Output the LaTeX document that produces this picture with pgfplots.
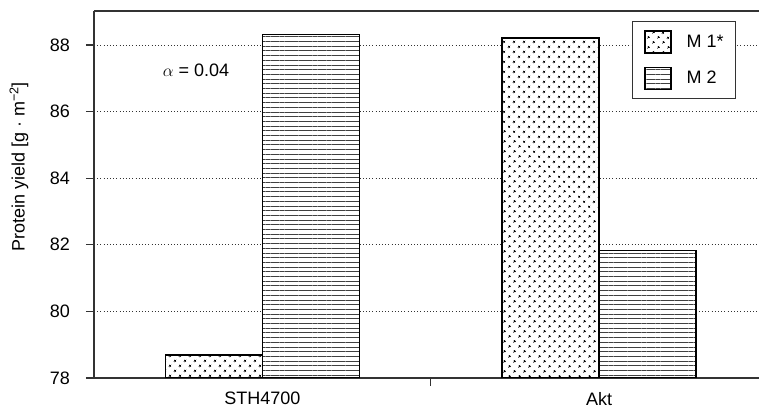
\documentclass[border=0pt]{standalone}
\usepackage{pgfplots}
\pgfplotsset{compat=1.18}
\usepackage{fontspec}
\setmainfont{Liberation Sans}
\usetikzlibrary{patterns.meta}

\definecolor{axisgray}{HTML}{333333}

\begin{document}
\begin{tikzpicture}
\begin{axis}[
  scale only axis,
  width=665bp, height=367bp,
  at={(0,0)}, anchor=south west,
  font=\fontsize{18bp}{21bp}\selectfont,
  /pgf/number format/assume math mode=true,
  ybar,
  bar width=0.288,
  xmin=-0.5, xmax=1.475,
  ymin=78, ymax=89.02,
  axis x line*=box,
  axis y line*=left,
  axis line style={draw=axisgray, line width=1.2bp},
  tick style={draw=axisgray, line width=1.2bp},
  tick align=outside,
  major tick length=8bp,
  xtick={0.5}, xticklabels={},
  xtick pos=bottom,
  extra x ticks={0,1},
  extra x tick labels={STH4700,Akt},
  extra x tick style={major tick length=0pt},
  xticklabel style={inner sep=0pt, anchor=north, yshift=-14bp},
  ytick={78,80,82,84,86,88},
  yticklabel style={inner sep=0pt, anchor=east, xshift=-16bp},
  ymajorgrids,
  grid style={draw=black!80, line width=0.8bp, dash pattern=on 1bp off 2.2bp},
  ylabel={Protein yield [g · m\textsuperscript{\char"2212 2}]},
  every axis y label/.style={at={(axis description cs:-0.1128,0.575)}, rotate=90, anchor=center},
  legend image code/.code={\draw[#1] (0bp,-11bp) rectangle (26bp,11bp);},
  legend style={at={(0.809,0.973)}, anchor=north west, draw=axisgray, line width=1bp,
    inner xsep=12bp, inner ysep=9bp, row sep=13bp,
    nodes={inner sep=0pt},
    /tikz/every odd column/.append style={column sep=15bp},
    font=\fontsize{18bp}{21bp}\selectfont},
  legend cell align=left,
]
% M 1* bars: white fill with staggered dots
\addplot[draw=black, line width=1.2bp, fill=white, bar shift=-0.144,
  postaction={pattern={Dots[angle=45, distance=6.8bp, radius=1.3bp]}, pattern color=black}]
  coordinates {(0,78.69) (1,88.21)};
% M 2 bars: white fill with horizontal lines
\addplot[draw=black, line width=1.2bp, fill=white, bar shift=0.144,
  postaction={pattern={Lines[angle=0, distance=4.7bp, line width=0.7bp]}, pattern color=black!75}]
  coordinates {(0,88.32) (1,81.84)};
\legend{M 1*, M 2}
\node at (axis cs:-0.197,87.25) {$\alpha$ = 0.04};
\end{axis}
\pgfresetboundingbox
\path (-94bp,-30bp) rectangle (665bp,378bp);
\end{tikzpicture}
\end{document}
